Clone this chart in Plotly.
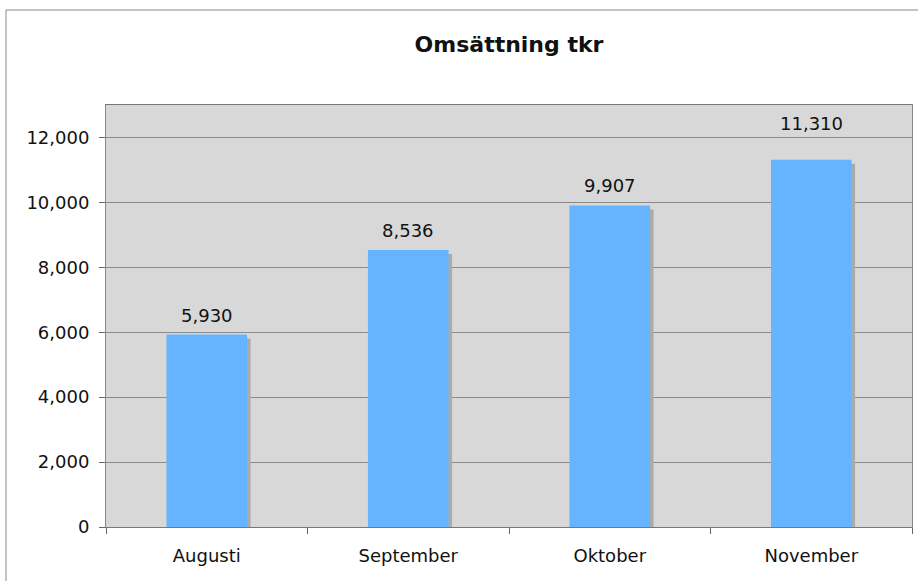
import plotly.graph_objects as go

months = ["Augusti", "September", "Oktober", "November"]
values = [5930, 8536, 9907, 11310]
y_ticks = [0, 2000, 4000, 6000, 8000, 10000, 12000]
label_lift_px = [7, 7, 7, 24]

W, H = 918, 581
ml, mr, mt, mb = 106, 6, 105, 54
pw, ph = W - ml - mr, H - mt - mb
y_max = 13000
px_per_unit = ph / y_max
cat_px = pw / len(months)

font = "DejaVu Sans, Verdana, sans-serif"

fig = go.Figure()
# shadow
fig.add_trace(go.Bar(
    x=months, y=values, base=[-4 / px_per_unit] * len(values),
    width=0.4, offset=-0.2 + 3.5 / cat_px,
    marker=dict(color="#ababab", line=dict(width=0)),
    hoverinfo="skip", showlegend=False,
))
fig.add_trace(go.Bar(
    x=months, y=values, width=0.4, offset=-0.2,
    marker=dict(color="#66b3ff", line=dict(width=0)),
    showlegend=False,
))

annotations = [
    dict(x=m, y=v, xref="x", yref="y", text=f"{v:,}", showarrow=False,
         yanchor="bottom", xanchor="center", yshift=s,
         font=dict(size=18, color="#111111", family=font))
    for m, v, s in zip(months, values, label_lift_px)
]

fig.update_layout(
    width=W, height=H, barmode="overlay",
    margin=dict(l=ml, r=mr, t=mt, b=mb),
    paper_bgcolor="white", plot_bgcolor="#d8d8d8",
    font=dict(family=font, size=18, color="#111111"),
    title=dict(text="<b>Omsättning tkr</b>", x=0.5, xref="paper", xanchor="center",
               y=1 - 44 / H, yanchor="middle", font=dict(size=22, family=font)),
    xaxis=dict(type="category", tickson="boundaries", ticks="outside", ticklen=6,
               tickcolor="#666666", showline=True, linecolor="#777777", linewidth=1,
               mirror=True, showgrid=False, tickfont=dict(size=18), ticklabelstandoff=12),
    yaxis=dict(range=[0, y_max], tickvals=y_ticks, tickformat=",", ticks="outside",
               ticklen=6, tickcolor="#666666", showline=True, linecolor="#888888",
               linewidth=1, mirror=True, showgrid=True, gridcolor="#8a8a8a",
               gridwidth=1, zeroline=False, tickfont=dict(size=18), ticklabelstandoff=6),
    annotations=annotations,
    shapes=[dict(type="rect", xref="paper", yref="paper",
                 x0=(6 - ml) / pw, x1=(W + 5 - ml) / pw,
                 y0=-(mb + 10) / ph, y1=(H - mb - 10) / ph,
                 line=dict(color="#888888", width=1), fillcolor="rgba(0,0,0,0)",
                 layer="below")],
)

fig.write_html("out.html", config={"displayModeBar": False},
               post_script="document.body.style.margin='0';")
